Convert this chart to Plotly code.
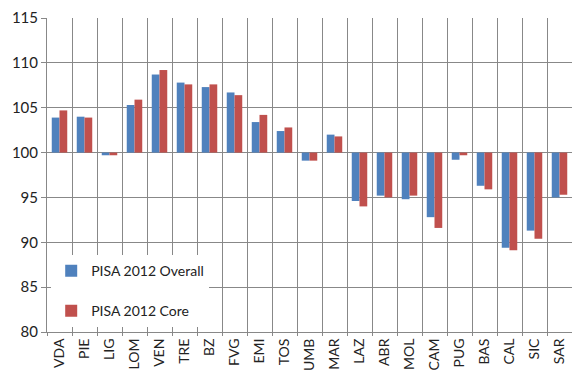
import plotly.graph_objects as go

# Regional PISA 2012 indices (Italy = 100)
regions = ["VDA", "PIE", "LIG", "LOM", "VEN", "TRE", "BZ", "FVG", "EMI", "TOS", "UMB",
           "MAR", "LAZ", "ABR", "MOL", "CAM", "PUG", "BAS", "CAL", "SIC", "SAR"]
overall = [103.9, 104.0, 99.7, 105.3, 108.7, 107.8, 107.3, 106.7, 103.4, 102.4, 99.1,
           102.0, 94.6, 95.2, 94.8, 92.8, 99.2, 96.3, 89.4, 91.3, 95.0]
core = [104.7, 103.9, 99.7, 105.9, 109.2, 107.6, 107.6, 106.4, 104.2, 102.8, 99.1,
        101.8, 94.0, 95.0, 95.2, 91.6, 99.7, 95.9, 89.1, 90.4, 95.3]
baseline = 100

fig = go.Figure()
for name, vals, color, grp in [("PISA 2012 Overall", overall, "#4F81BD", "a"),
                               ("PISA 2012 Core", core, "#C0504D", "b")]:
    fig.add_trace(go.Bar(
        x=regions, y=[v - baseline for v in vals], base=baseline,
        name=name, marker=dict(color=color, line=dict(width=0)),
        legendgroup=grp,
    ))

grid = "#888888"
fig.update_layout(
    width=572, height=378,
    margin=dict(l=47, r=0, t=18, b=46),
    paper_bgcolor="white", plot_bgcolor="white",
    barmode="group", bargap=0.38, bargroupgap=0,
    font=dict(family="Lato, 'Open Sans', sans-serif", color="#222222"),
    legend=dict(
        x=0.008, y=0.245, xanchor="left", yanchor="top",
        bgcolor="white", borderwidth=0,
        font=dict(size=14, color="#222222"),
        tracegroupgap=19, itemwidth=30,
    ),
    xaxis=dict(
        type="category", tickson="boundaries", showgrid=True, gridcolor=grid, gridwidth=1,
        showline=True, linecolor=grid, linewidth=1,
        ticks="outside", ticklen=3, tickcolor=grid,
        tickangle=-90, tickfont=dict(size=14, color="#222222"),
        range=[-0.5, len(regions) - 0.5],
    ),
    yaxis=dict(
        range=[80, 115], dtick=5, showgrid=True, gridcolor=grid, gridwidth=1,
        showline=True, linecolor=grid, linewidth=1,
        ticks="outside", ticklen=5, tickcolor=grid,
        tickfont=dict(size=15, color="#222222"), zeroline=False,
    ),
)

fig.write_html("out.html")
